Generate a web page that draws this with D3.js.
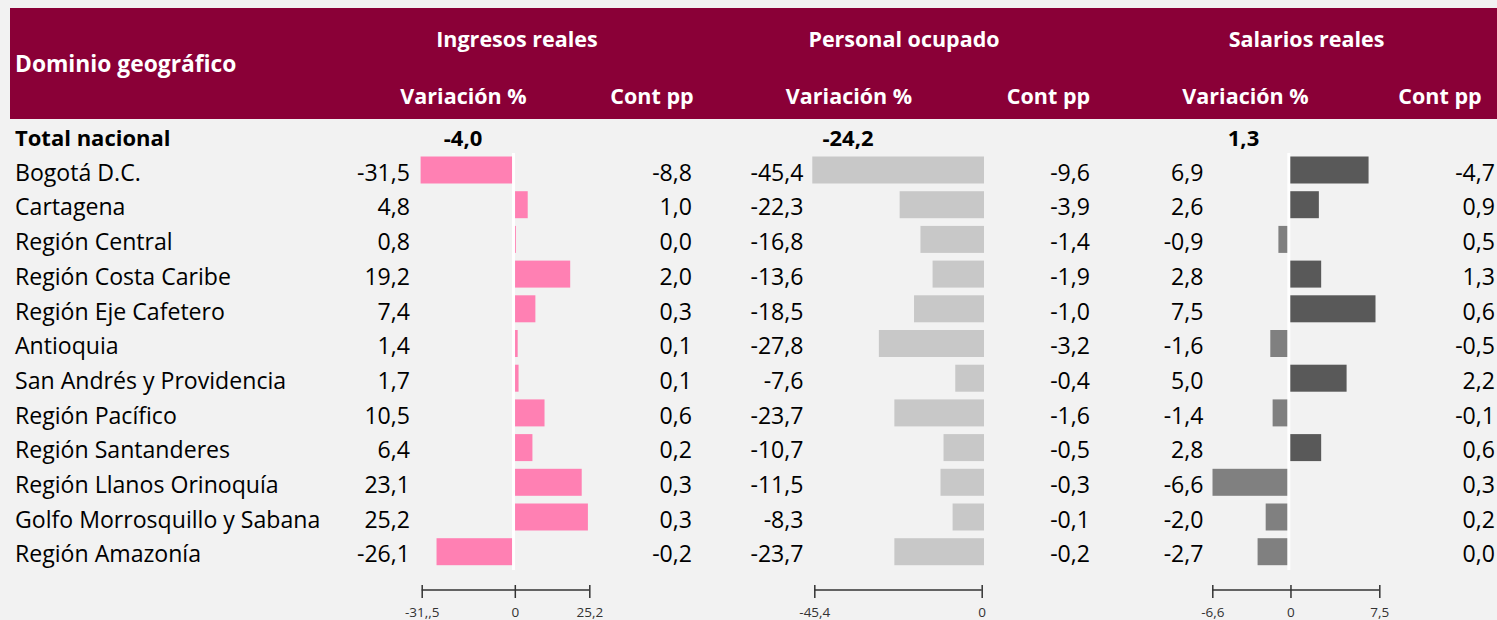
<!DOCTYPE html>
<html>
<head>
<meta charset="utf-8">
<script src="https://cdn.jsdelivr.net/npm/d3@7"></script>
<style>
  html, body { margin: 0; padding: 0; background: #f2f2f2; }
  svg { display: block; font-family: "Open Sans", "Noto Sans", sans-serif; }
</style>
</head>
<body>
<svg id="chart" width="1497" height="620"></svg>
<script>
// Regional labour-market indicators: real income, employed staff, real wages
const regions = ["Bogotá D.C.", "Cartagena", "Región Central", "Región Costa Caribe",
  "Región Eje Cafetero", "Antioquia", "San Andrés y Providencia", "Región Pacífico",
  "Región Santanderes", "Región Llanos Orinoquía", "Golfo Morrosquillo y Sabana", "Región Amazonía"];

const ingresosVar  = [-31.5, 4.8, 0.8, 19.2, 7.4, 1.4, 1.7, 10.5, 6.4, 23.1, 25.2, -26.1];
const ingresosCont = [-8.8, 1.0, 0.0, 2.0, 0.3, 0.1, 0.1, 0.6, 0.2, 0.3, 0.3, -0.2];
const personalVar  = [-45.4, -22.3, -16.8, -13.6, -18.5, -27.8, -7.6, -23.7, -10.7, -11.5, -8.3, -23.7];
const personalCont = [-9.6, -3.9, -1.4, -1.9, -1.0, -3.2, -0.4, -1.6, -0.5, -0.3, -0.1, -0.2];
const salariosVar  = [6.9, 2.6, -0.9, 2.8, 7.5, -1.6, 5.0, -1.4, 2.8, -6.6, -2.0, -2.7];
const salariosCont = [-4.7, 0.9, 0.5, 1.3, 0.6, -0.5, 2.2, -0.1, 0.6, 0.3, 0.2, 0.0];

const totalLabel = "Total nacional";
const totals = [-4.0, -24.2, 1.3];

const groupTitles = ["Ingresos reales", "Personal ocupado", "Salarios reales"];
const colTitles = ["Variación %", "Cont pp"];
const rowHeader = "Dominio geográfico";

const ingresosTicks = [-31.5, 0, 25.2];
const ingresosTickLabels = ["-31,,5", "0", "25,2"];
const personalTicks = [-45.4, 0];
const personalTickLabels = ["-45,4", "0"];
const salariosTicks = [-6.6, 0, 7.5];
const salariosTickLabels = ["-6,6", "0", "7,5"];

const locale = d3.formatLocale({ decimal: ",", thousands: ".", grouping: [3], currency: ["$", ""], minus: "-" });
const fmt = locale.format(".1f");

const svg = d3.select("#chart");
const W = 1497, H = 620;

svg.append("rect").attr("width", W).attr("height", H).attr("fill", "#f2f2f2");

// Header band
svg.append("rect").attr("x", 10).attr("y", 8).attr("width", W - 10).attr("height", 111).attr("fill", "#8a0037");

const head = svg.append("g").attr("fill", "#ffffff").attr("font-weight", 700).attr("font-size", 21.5);
head.append("text").attr("x", 15).attr("y", 72).attr("font-size", 22.8).text(rowHeader);

// Column layout for the three groups
const groups = [
  {
    title: groupTitles[0], titleX: 517, varX: 463.5, contX: 652,
    varRight: 410, contRight: 692, totalX: 463,
    vals: ingresosVar, conts: ingresosCont,
    x: d3.scaleLinear().domain([-31.5, 25.2]).range([420.6, 587.9]),
    axis: d3.scaleLinear().domain([-31.5, 25.2]).range([421.7, 589.3]),
    ticks: ingresosTicks, tickLabels: ingresosTickLabels,
    pos: "#ff80b3", neg: "#ff80b3", zeroLine: true
  },
  {
    title: groupTitles[1], titleX: 904, varX: 849, contX: 1048.5,
    varRight: 803.5, contRight: 1090, totalX: 848,
    vals: personalVar, conts: personalCont,
    x: d3.scaleLinear().domain([-45.4, 0]).range([812.3, 984]),
    axis: d3.scaleLinear().domain([-45.4, 0]).range([814.3, 981.7]),
    ticks: personalTicks, tickLabels: personalTickLabels,
    pos: "#c8c8c8", neg: "#c8c8c8", zeroLine: false
  },
  {
    title: groupTitles[2], titleX: 1306.5, varX: 1245.5, contX: 1440,
    varRight: 1203.5, contRight: 1495, totalX: 1243.5,
    vals: salariosVar, conts: salariosCont,
    x: d3.scaleLinear().domain([-6.6, 7.5]).range([1212.5, 1375.5]),
    axis: d3.scaleLinear().domain([-6.6, 7.5]).range([1212.3, 1379.3]),
    ticks: salariosTicks, tickLabels: salariosTickLabels,
    pos: "#595959", neg: "#808080", zeroLine: true
  }
];

groups.forEach(g => {
  head.append("text").attr("x", g.titleX).attr("y", 47).attr("text-anchor", "middle").text(g.title);
  head.append("text").attr("x", g.varX).attr("y", 104).attr("text-anchor", "middle").text(colTitles[0]);
  head.append("text").attr("x", g.contX).attr("y", 104).attr("text-anchor", "middle").text(colTitles[1]);
});

// Row scale
const y = d3.scaleBand().domain(regions).range([152.65, 569.05]).paddingInner(0.222).paddingOuter(0.111);
const step = y.step();

// Total row
const totalCenter = y(regions[0]) + y.bandwidth() / 2 - step;
const totalG = svg.append("g").attr("font-weight", 700).attr("font-size", 22).attr("fill", "#000");
totalG.append("text").attr("x", 15).attr("y", totalCenter + 10.5).text(totalLabel);
groups.forEach((g, k) => {
  totalG.append("text").attr("x", g.totalX).attr("y", totalCenter + 10.5).attr("text-anchor", "middle").text(fmt(totals[k]));
});

// Region labels
const body = svg.append("g").attr("font-size", 23.1).attr("fill", "#000");
body.selectAll("text.region").data(regions).join("text")
  .attr("class", "region")
  .attr("x", 15)
  .attr("y", d => y(d) + y.bandwidth() / 2 + 10.7)
  .text(d => d);

groups.forEach(g => {
  const gg = svg.append("g");
  const rows = regions.map((r, i) => ({ r, v: g.vals[i], c: g.conts[i] }));

  gg.selectAll("rect.bar").data(rows).join("rect")
    .attr("class", "bar")
    .attr("x", d => g.x(Math.min(0, d.v)))
    .attr("width", d => Math.abs(g.x(d.v) - g.x(0)))
    .attr("y", d => y(d.r))
    .attr("height", y.bandwidth())
    .attr("fill", d => d.v < 0 ? g.neg : g.pos);

  if (g.zeroLine) {
    gg.append("line")
      .attr("x1", g.x(0)).attr("x2", g.x(0))
      .attr("y1", 153).attr("y2", 570)
      .attr("stroke", "#ffffff").attr("stroke-width", 3);
  }

  body.append("g").selectAll("text").data(rows).join("text")
    .attr("x", g.varRight)
    .attr("y", d => y(d.r) + y.bandwidth() / 2 + 10.7)
    .attr("text-anchor", "end")
    .text(d => fmt(d.v));

  body.append("g").selectAll("text").data(rows).join("text")
    .attr("x", g.contRight)
    .attr("y", d => y(d.r) + y.bandwidth() / 2 + 10.7)
    .attr("text-anchor", "end")
    .text(d => fmt(d.c));

  // Small reference axis under each group
  const ax = svg.append("g").attr("transform", "translate(0,590)")
    .call(d3.axisBottom(g.axis).tickValues(g.ticks)
      .tickFormat((d, i) => g.tickLabels[i]).tickSizeOuter(0).tickSize(8).tickPadding(10));
  ax.attr("font-family", "\"Open Sans\", sans-serif").attr("font-size", 13.5);
  ax.select(".domain").attr("d", `M${g.axis.range()[0]},0H${g.axis.range()[1]}`)
    .attr("stroke", "#333").attr("stroke-width", 1.5);
  ax.selectAll(".tick line").attr("y1", -5).attr("y2", 8).attr("stroke", "#333").attr("stroke-width", 1.5);
  ax.selectAll(".tick text").attr("fill", "#333").attr("dy", "0.66em");
});
</script>
</body>
</html>
